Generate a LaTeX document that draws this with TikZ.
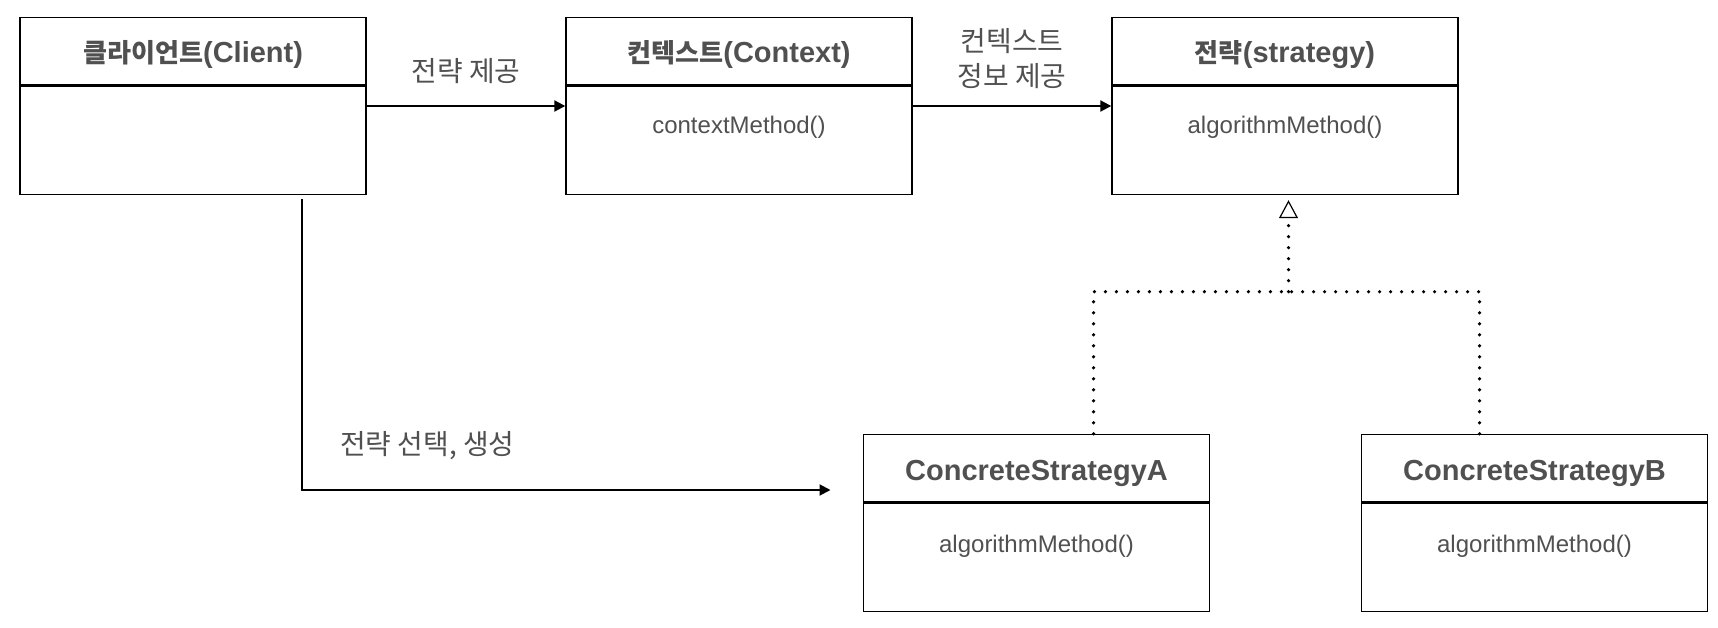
\documentclass[tikz,border=0pt]{standalone}
\usepackage{fontspec}
\setmainfont{Liberation Sans}
\newfontfamily\kr[Scale=0.9]{Noto Sans CJK KR}
\usetikzlibrary{arrows.meta, positioning}
\definecolor{umlink}{RGB}{80,80,80}

\def\bw{346}
\def\bh{177}

\tikzset{
  classbox/.style={draw=black, line width=1.4pt, minimum width=\bw pt, minimum height=\bh pt, inner sep=0pt},
  classtitle/.style={font=\fontsize{29}{33}\selectfont\bfseries, text=umlink, inner sep=0pt},
  classmethod/.style={font=\fontsize{24}{28}\selectfont, text=umlink, inner sep=0pt},
  divider/.style={line width=3pt},
  flow/.style={line width=2pt, -{Triangle[length=11pt, width=11pt]}},
  flowlabel/.style={font=\fontsize{31}{35}\selectfont, text=umlink, align=center, inner sep=0pt},
  realize/.style={line width=3.6pt, line cap=round, dash pattern=on 0pt off 11pt},
}

\begin{document}
\begin{tikzpicture}[x=1pt, y=-1pt]
  \useasboundingbox (0,0) rectangle (1718,628);

  % top row: client, context, strategy
  \node[classbox] (client) at (193,106) {};
  \node[classbox] (context) at (739,106) {};
  \node[classbox] (strategy) at (1285,106) {};
  % bottom row: concrete strategies
  \node[classbox] (concA) at (1036.5,523) {};
  \node[classbox] (concB) at (1534.5,523) {};

  % header dividers
  \foreach \c in {client, context, strategy, concA, concB}
    \draw[divider] ([yshift=-69pt]\c.north west) -- ([yshift=-69pt]\c.north east);

  % class names
  \node[classtitle] (clientT) at ([yshift=-38pt]client.north) {{\kr 클라이언트}(Client)};
  \node[classtitle] (contextT) at ([yshift=-38pt]context.north) {{\kr 컨텍스트}(Context)};
  \node[classtitle] (strategyT) at ([yshift=-38pt]strategy.north) {{\kr 전략}(strategy)};
  \node[classtitle] (concAT) at ([yshift=-40pt]concA.north) {ConcreteStrategyA};
  \node[classtitle] (concBT) at ([yshift=-40pt]concB.north) {ConcreteStrategyB};

  % methods
  \node[classmethod] (contextM) at ([yshift=-110pt]context.north) {contextMethod()};
  \node[classmethod] (strategyM) at ([yshift=-110pt]strategy.north) {algorithmMethod()};
  \node[classmethod] (concAM) at ([yshift=-112pt]concA.north) {algorithmMethod()};
  \node[classmethod] (concBM) at ([yshift=-112pt]concB.north) {algorithmMethod()};

  % associations
  \draw[flow] (client) -- (context);
  \node[flowlabel] (provide) at (466,71) {{\kr 전략 제공}};
  \draw[flow] (context) -- (strategy);
  \node[flowlabel] (ctxinfo) at (1012,59) {{\kr 컨텍스트}\\{\kr 정보 제공}};

  % client picks a concrete strategy
  \coordinate (pick) at (830.5,490);
  \draw[flow] ([xshift=109pt,yshift=-4pt]client.south) |- (pick);
  \node[flowlabel, anchor=west] (choose) at (340,446) {{\kr 전략 선택, 생성}};

  % realization (dotted)
  \coordinate (split) at ([xshift=3.5pt,yshift=-96.5pt]strategy.south);
  \draw[realize] ([xshift=57pt]concA.north) |- (split);
  \draw[realize] ([xshift=-55pt]concB.north) |- (split);
  \draw[realize, -{Triangle[open, length=18pt, width=19pt, line width=1.2pt]}] (split) -- ([xshift=3.5pt,yshift=-5pt]strategy.south);
\end{tikzpicture}
\end{document}
